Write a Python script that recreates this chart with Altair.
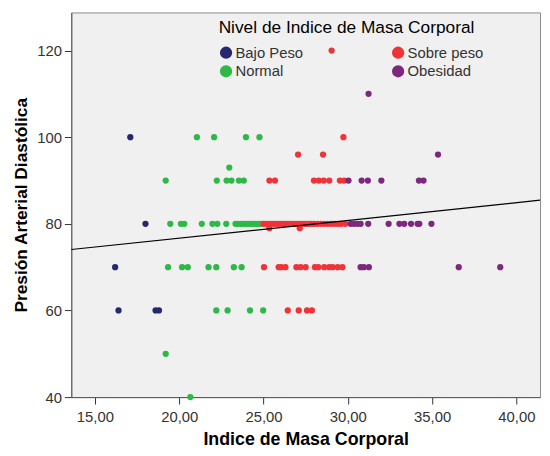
import altair as alt
import pandas as pd

# ---- data ----
legend_order = ["Bajo Peso", "Normal", "Sobre peso", "Obesidad"]
legend_colors = ["#27276F", "#2EB848", "#EF3338", "#7C287D"]

bajo_imc = [17.1, 18.0, 16.2, 16.4, 18.6, 18.8]
bajo_pad = [100, 80, 70, 60, 60, 60]

normal_imc = [21.05, 22.07, 23.96, 24.76,
              22.97,
              19.2, 22.23, 22.81, 23.1, 23.54, 23.83,
              19.47, 20.1, 20.3, 21.34, 21.97, 22.26, 22.79, 23.34, 23.5, 23.65,
              23.8, 23.95, 24.1, 24.25, 24.4, 24.55, 24.7, 24.85,
              19.34, 20.17, 20.51, 21.74, 22.2, 23.24, 23.7,
              22.2, 22.87, 24.2, 24.98,
              19.2,
              20.66]
normal_pad = [100, 100, 100, 100,
              93,
              90, 90, 90, 90, 90, 90,
              80, 80, 80, 80, 80, 80, 80, 80, 80, 80,
              80, 80, 80, 80, 80, 80, 80, 80,
              70, 70, 70, 70, 70, 70, 70,
              60, 60, 60, 60,
              50,
              40]

sobre_imc = [29.04,
             29.74,
             27.05, 28.53,
             25.35, 25.68, 27.99, 28.28, 28.57, 28.9, 29.53, 29.78,
             25.0, 25.15, 25.3, 25.45, 25.6, 25.75, 25.9, 26.05, 26.2, 26.35,
             26.5, 26.65, 26.8, 26.95, 27.1, 27.25, 27.4, 27.55, 27.7, 27.85,
             28.0, 28.2, 28.4, 28.6, 28.8, 29.0, 29.2, 29.4, 29.6, 29.85,
             25.35, 27.15,
             25.03, 25.9, 26.05, 26.3, 26.95, 27.2, 27.5, 28.05, 28.25, 28.6,
             28.9, 29.1, 29.4, 29.68,
             26.44, 27.09, 27.58, 27.87]
sobre_pad = [120,
             100,
             96, 96,
             90, 90, 90, 90, 90, 90, 90, 90,
             80, 80, 80, 80, 80, 80, 80, 80, 80, 80,
             80, 80, 80, 80, 80, 80, 80, 80, 80, 80,
             80, 80, 80, 80, 80, 80, 80, 80, 80, 80,
             79, 79,
             70, 70, 70, 70, 70, 70, 70, 70, 70, 70,
             70, 70, 70, 70,
             60, 60, 60, 60]

obes_imc = [31.23,
            35.35,
            30.04, 30.82, 31.19, 31.99, 34.22, 34.49,
            30.17, 30.37, 30.57, 30.76, 31.21, 32.42, 33.06, 33.35, 33.75, 34.14,
            34.24, 34.96,
            30.76, 30.95, 31.25, 36.58, 39.04]
obes_pad = [110,
            96,
            90, 90, 90, 90, 90, 90,
            80, 80, 80, 80, 80, 80, 80, 80, 80, 80,
            80, 80,
            70, 70, 70, 70, 70]

# fitted line
fit_imc = [13.6, 41.4]
fit_pad = [74.07, 85.46]

x_domain = [13.6, 41.4]
y_domain = [40, 128.8]
x_ticks = [15, 20, 25, 30, 35, 40]
y_ticks = [40, 60, 80, 100, 120]

rows = []
for name, xs, ys in [("Bajo Peso", bajo_imc, bajo_pad),
                     ("Normal", normal_imc, normal_pad),
                     ("Sobre peso", sobre_imc, sobre_pad),
                     ("Obesidad", obes_imc, obes_pad)]:
    for a, b in zip(xs, ys):
        rows.append({"imc": a, "pad": b, "nivel": name})
df = pd.DataFrame(rows)
line_df = pd.DataFrame({"imc": fit_imc, "pad": fit_pad})

xscale = alt.Scale(domain=x_domain, nice=False, zero=False)
yscale = alt.Scale(domain=y_domain, nice=False, zero=False)

points = alt.Chart(df).mark_circle(size=40, opacity=1).encode(
    x=alt.X("imc:Q", scale=xscale,
            axis=alt.Axis(values=x_ticks, title="Indice de Masa Corporal",
                          labelExpr="replace(format(datum.value, '.2f'), '.', ',')",
                          labelPadding=6, titlePadding=6, titleFontSize=18)),
    y=alt.Y("pad:Q", scale=yscale,
            axis=alt.Axis(values=y_ticks, format="d", title="Presión Arterial Diastólica",
                          labelPadding=3, titlePadding=6, titleFontSize=17.5)),
    color=alt.Color("nivel:N",
                    scale=alt.Scale(domain=legend_order, range=legend_colors),
                    legend=alt.Legend(title="Nivel de Indice de Masa Corporal",
                                      orient="none", legendX=149, legendY=7,
                                      columns=2, columnPadding=88, rowPadding=3,
                                      symbolType="circle", symbolSize=154,
                                      symbolStrokeWidth=0, labelOffset=2,
                                      labelFontSize=15, labelColor="#333333",
                                      titleFontSize=17.5, titleFontWeight="normal",
                                      titleColor="#000000", titlePadding=8.5,
                                      titleLimit=400, labelLimit=200,
                                      padding=0)),
)

line = alt.Chart(line_df).mark_line(color="black", strokeWidth=1.2).encode(
    x=alt.X("imc:Q", scale=xscale),
    y=alt.Y("pad:Q", scale=yscale),
)

chart = alt.layer(points, line).properties(
    width=474, height=389,
    padding={"left": 64, "top": 2, "right": 2, "bottom": 50},
    autosize=alt.AutoSizeParams(type="none"),
    background="white",
).configure(font="Liberation Sans").configure_view(
    fill="#F0F0F0", stroke="#8C8C8C", strokeWidth=1
).configure_axis(
    grid=False, labelFontSize=15, labelColor="#333333",
    titleFontWeight="bold", titleColor="#000000", tickSize=7, tickColor="#333333",
    domainColor="#555555"
)

chart.save("out.html", embed_options={"renderer": "svg", "actions": False})
